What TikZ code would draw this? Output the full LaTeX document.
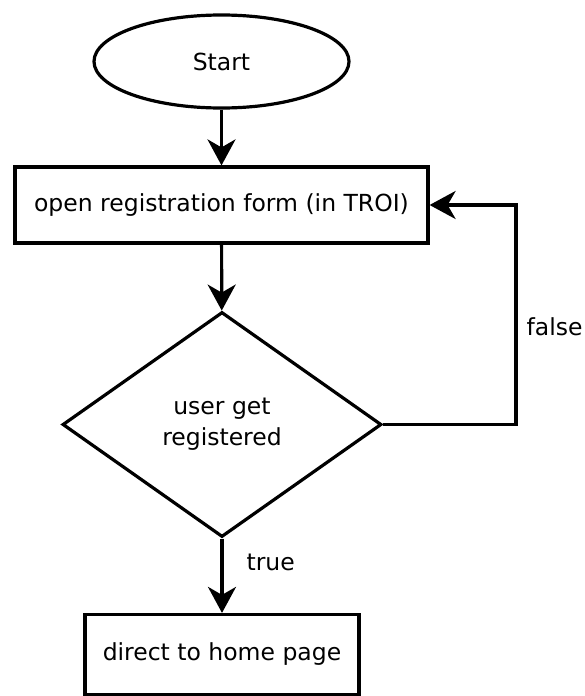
\documentclass[tikz,border=0pt]{standalone}
\usepackage{fontspec}
\setmainfont{DejaVu Sans}
\usetikzlibrary{shapes.geometric,arrows.meta}

\begin{document}
\begin{tikzpicture}[x=1pt,y=-1pt,line width=3.2pt,
  every node/.style={font=\fontsize{23.5}{31}\selectfont},
  startnode/.style={draw,ellipse,minimum width=255pt,minimum height=93pt,inner sep=0pt},
  boxnode/.style={draw,rectangle,inner sep=0pt},
  testnode/.style={draw,diamond,aspect=1.4,minimum width=319pt,minimum height=225pt,inner sep=0pt,align=center},
  flow/.style={-{Stealth[length=26pt,width=28pt,inset=8pt]}},
  label/.style={inner sep=0pt,anchor=west}]
\useasboundingbox (0,0) rectangle (584,696);

\node[startnode] (start) at (221.5, 61.5) {Start};
\node[boxnode, minimum width=413pt, minimum height=76pt] (form) at (221.5, 205) {open registration form (in TROI)};
\node[testnode] (test) at (222, 424.5) {user get\\registered};
\node[boxnode, minimum width=274pt, minimum height=80pt] (home) at (222, 654.5) {direct to home page};

\coordinate (back) at (516, 205);

\draw[flow] (start) -- (form);
\draw[flow] (form) -- (test);
\draw[flow] (test) -- (home);
\draw[flow] (test.east) -| (back) -- (form.east);

\node[label] (true) at (245, 562) {true};
\node[label] (false) at (525, 327) {false};
\end{tikzpicture}
\end{document}
